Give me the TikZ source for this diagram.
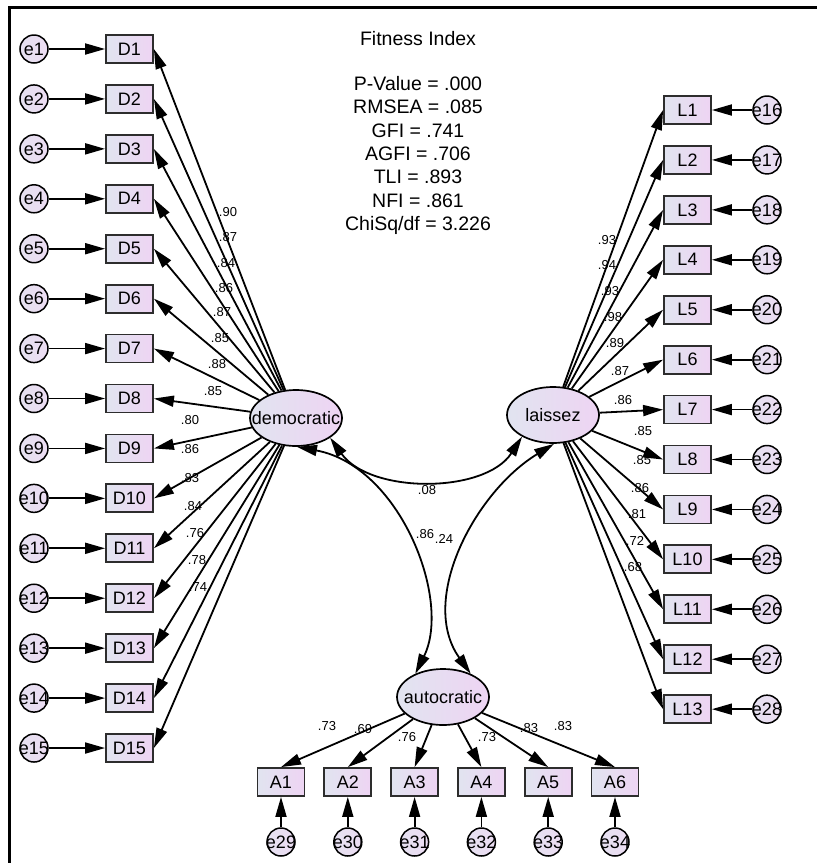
\documentclass[tikz,border=0pt]{standalone}
\usepackage{fontspec}
\setmainfont{Liberation Sans}
\usetikzlibrary{arrows.meta,shapes.geometric}
\definecolor{fillL}{RGB}{225,228,240}
\definecolor{fillR}{RGB}{238,212,243}
\definecolor{errfill}{RGB}{236,220,242}
\definecolor{boxline}{RGB}{45,45,45}
\begin{document}
\begin{tikzpicture}[x=1pt,y=-1pt,
  >={Triangle[length=20pt,width=11pt]},
  obs/.style={rectangle, draw=boxline, line width=1.8pt, minimum width=47pt,
    minimum height=28pt, inner sep=0pt, left color=fillL, right color=fillR,
    font=\fontsize{18}{20}\selectfont},
  lat/.style={ellipse, draw, line width=1.7pt, minimum width=92pt,
    minimum height=56pt, inner sep=0pt, left color=fillL, right color=fillR,
    font=\fontsize{18}{20}\selectfont},
  err/.style={circle, draw, line width=1.5pt, minimum size=28pt, inner sep=0pt,
    left color=fillL!60!errfill, right color=errfill,
    font=\fontsize{18}{20}\selectfont},
  coef/.style={inner sep=0pt, font=\fontsize{13}{15}\selectfont},
  fitline/.style={anchor=base, inner sep=0pt, font=\fontsize{19.5}{23}\selectfont},
  arr/.style={line width=1.8pt, ->},
  cov/.style={line width=1.8pt, <->}]
\useasboundingbox (0,0) rectangle (817,863);

% frame
\draw[line width=2.7pt] (9.5,863) -- (9.5,7.5) -- (817,7.5);

% fit indices
\foreach \t/\b [count=\n] in {{Fitness Index}/45.3, {P-Value = .000}/90.3,
    {RMSEA = .085}/113.7, {GFI = .741}/137, {AGFI = .706}/160.3,
    {TLI = .893}/183.7, {NFI = .861}/207, {ChiSq/df = 3.226}/230.3}
  \node[fitline] (fit\n) at (418,\b) {\t};

% latent variables
\node[lat] (dem) at (296,418) {\makebox[0pt]{democratic}};
\node[lat] (lai) at (553,415) {\makebox[0pt]{laissez}};
\node[lat] (aut) at (443,697) {\makebox[0pt]{autocratic}};

% democratic indicators
\foreach \i in {1,...,15} {
  \pgfmathsetmacro\yy{49+49.93*(\i-1)}
  \node[obs] (D\i) at (129.5,\yy) {D\i};
  \node[err] (e\i) at (34,\yy) {\makebox[0pt]{e\i}};
  \draw[arr] (e\i) -- (D\i);
  \draw[arr] (dem) -- (D\i.east);
}

% laissez indicators
\foreach \i in {1,...,13} {
  \pgfmathsetmacro\yy{110+49.93*(\i-1)}
  \pgfmathtruncatemacro\k{15+\i}
  \node[obs] (L\i) at (687.5,\yy) {L\i};
  \node[err] (e\k) at (767,\yy) {\makebox[0pt]{e\k}};
  \draw[arr] (e\k) -- (L\i);
  \draw[arr] (lai) -- (L\i.west);
}

% autocratic indicators
\foreach \i in {1,...,6} {
  \pgfmathsetmacro\xx{281+66.8*(\i-1)}
  \pgfmathtruncatemacro\k{28+\i}
  \node[obs] (A\i) at (\xx,782) {A\i};
  \node[err] (e\k) at (\xx,842) {\makebox[0pt]{e\k}};
  \draw[arr] (e\k) -- (A\i);
  \draw[arr] (aut) -- (A\i.north);
}

% covariances
\draw[cov] (dem.-30) .. controls (370,494) and (485,494) .. (lai.-145);
\draw[cov] (dem.-88) .. controls (400,466) and (452,600) .. (aut.140);
\draw[cov] (lai.-88) .. controls (475,492) and (418,600) .. (aut.40);
\node[coef] (c1) at (427,490) {.08};
\node[coef] (c2) at (425,534) {.86};
\node[coef] (c3) at (444,539) {.24};

% loadings
\foreach \v/\x/\y [count=\n] in {.90/228/212, .87/228/237, .84/226/263,
    .86/224/288, .87/222/312, .85/220/338, .88/217/364, .85/213/391,
    .80/190/420, .86/190/449, .83/190/478, .84/193/506, .76/195/533,
    .78/197/560, .74/198/587}
  \node[coef] (ld\n) at (\x,\y) {\v};
\foreach \v/\x/\y [count=\n] in {.93/607/240, .94/607/265, .93/610/291,
    .98/613/317, .89/615/343, .87/620/371, .86/623/400, .85/643/431,
    .85/642/460, .86/640/488, .81/637/514, .72/635/541, .68/633/567}
  \node[coef] (ll\n) at (\x,\y) {\v};
\foreach \v/\x/\y [count=\n] in {.73/327/726, .69/363/729, .76/407/737,
    .73/487/737, .83/529/728, .83/563/726}
  \node[coef] (la\n) at (\x,\y) {\v};
\end{tikzpicture}
\end{document}
